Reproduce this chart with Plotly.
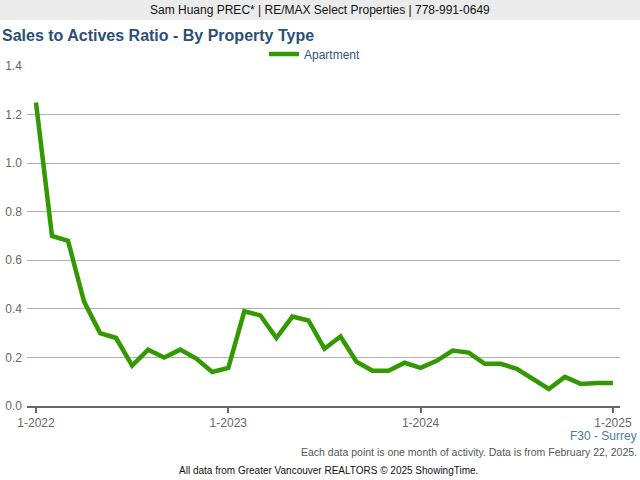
import plotly.graph_objects as go

# Data: monthly sales-to-actives ratio, Apartment, F30 - Surrey, Jan 2022 .. Jan 2025
month_index = list(range(37))
apartment = [1.25, 0.70, 0.68, 0.43, 0.30, 0.28, 0.166, 0.232, 0.20, 0.232, 0.195, 0.14,
             0.157, 0.39, 0.373, 0.28, 0.368, 0.352, 0.236, 0.286, 0.182, 0.145, 0.145, 0.178,
             0.157, 0.186, 0.228, 0.22, 0.174, 0.174, 0.153, 0.112, 0.07, 0.12, 0.091, 0.095,
             0.095]
tick_vals = [0, 12, 24, 36]
tick_text = ["1-2022", "1-2023", "1-2024", "1-2025"]
y_ticks = [0.0, 0.2, 0.4, 0.6, 0.8, 1.0, 1.2, 1.4]

W, H = 640, 480
L, R, T, B = 27, 20, 66, 74
pw, ph = W - L - R, H - T - B

def px(x):
    return (x - L) / pw

def py(y):
    return (H - B - y) / ph

FONT = "Arial, Liberation Sans, sans-serif"

fig = go.Figure()
fig.add_trace(go.Scatter(
    x=month_index, y=apartment, mode="lines", name="Apartment",
    line=dict(color="#339900", width=4.5),
))

fig.update_layout(
    width=W, height=H,
    margin=dict(l=L, r=R, t=T, b=B, autoexpand=False),
    paper_bgcolor="white", plot_bgcolor="white",
    font=dict(family=FONT, size=12, color="#666666"),
    showlegend=True,
    legend=dict(orientation="h", x=px(315), xanchor="center", y=py(54), yanchor="middle",
                font=dict(color="#2f5584", size=12), bgcolor="rgba(0,0,0,0)",
                itemwidth=30),
    xaxis=dict(range=[-0.56, 36.44], tickvals=tick_vals, ticktext=tick_text, automargin=False,
               showgrid=False, zeroline=False, showline=True, linecolor="#666666", linewidth=2,
               ticks="outside", ticklen=5, tickcolor="#666666", tickwidth=2,
               tickfont=dict(size=12, color="#666666")),
    yaxis=dict(range=[0, 1.4], tickvals=y_ticks, tickformat=".1f", automargin=False,
               showgrid=True, gridcolor="#b0b0b0", gridwidth=1, zeroline=False,
               showline=False, ticks="", ticklabelstandoff=4, tickfont=dict(size=12, color="#666666")),
    shapes=[dict(type="rect", xref="paper", yref="paper", x0=px(0), x1=px(W), y0=py(20), y1=py(0),
                 fillcolor="#ebebeb", line=dict(width=0), layer="below")],
    annotations=[
        dict(text="Sam Huang PREC* | RE/MAX Select Properties | 778-991-0649", xref="paper", yref="paper",
             x=px(320), y=py(10), xanchor="center", yanchor="middle", showarrow=False,
             font=dict(size=12, color="#111111", family=FONT)),
        dict(text="<b>Sales to Actives Ratio - By Property Type</b>", xref="paper", yref="paper",
             x=px(0), y=py(35), xanchor="left", yanchor="middle", showarrow=False,
             font=dict(size=16, color="#2c4f77", family=FONT)),
        dict(text="F30 - Surrey", xref="paper", yref="paper",
             x=px(639), y=py(436), xanchor="right", yanchor="middle", showarrow=False,
             font=dict(size=12, color="#4a79aa", family=FONT)),
        dict(text="Each data point is one month of activity. Data is from February 22, 2025.",
             xref="paper", yref="paper", x=px(639), y=py(452), xanchor="right", yanchor="middle",
             showarrow=False, font=dict(size=10.5, color="#555555", family=FONT)),
        dict(text="All data from Greater Vancouver REALTORS © 2025 ShowingTime.",
             xref="paper", yref="paper", x=px(328), y=py(470), xanchor="center", yanchor="middle",
             showarrow=False, font=dict(size=10, color="#111111", family=FONT)),
    ],
)

fig.write_html("out.html", config={"displayModeBar": False},
               post_script="document.body.style.margin='0';document.body.style.overflow='hidden';")
